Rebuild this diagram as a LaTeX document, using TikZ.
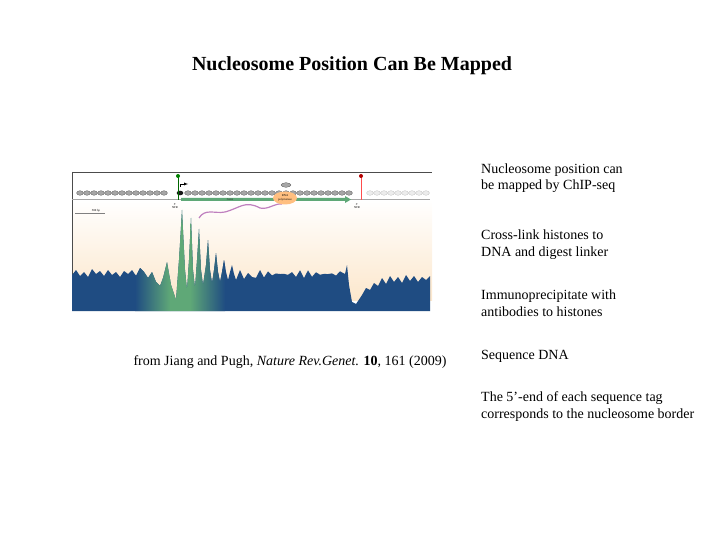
\documentclass[tikz,border=0pt]{standalone}
\usepackage{fontspec}
\setmainfont{Liberation Serif}
\usetikzlibrary{shapes.geometric}
\begin{document}
\begin{tikzpicture}[x=1pt,y=-1pt,
  body/.style={anchor=base west,align=left,font=\fontsize{14}{17}\selectfont,inner sep=0pt},
  nuc/.style={fill=gray!70,draw=gray!50!black,line width=0.2pt},
  nucw/.style={fill=gray!15,draw=gray!60,line width=0.2pt},
  tiny/.style={font=\fontsize{3}{3.5}\selectfont,inner sep=0pt}]
\useasboundingbox (0,0) rectangle (720,540);
\definecolor{profblue}{HTML}{1F4C82}
\definecolor{peach}{HTML}{FCE7CC}
\definecolor{genegreen}{HTML}{5FA877}
\node[font=\fontsize{20}{22}\selectfont\bfseries,anchor=base] (title) at (352,71) {Nucleosome Position Can Be Mapped};
% figure background
\shade[top color=white,bottom color=peach] (72,200) rectangle (432,300);
\draw[gray!60!black,line width=0.8pt] (72,172) -- (432,172);
\draw[gray!60!black,line width=0.5pt] (72,172) -- (72,311);
% profile
\begin{scope}
\clip (72,311) -- (72,275) -- (76,270) -- (80,276) -- (84,272) -- (88,277) -- (92,269) -- (96,274) -- (100,271) -- (104,276) -- (108,270) -- (112,275) -- (116,272) -- (120,277) -- (124,271) -- (128,274) -- (132,270) -- (136,276) -- (140,268) -- (144,272) -- (148,278) -- (152,272) -- (156,282) -- (160,286) -- (163,278) -- (167,262) -- (171,285) -- (176,300) -- (179,260) -- (182,210) -- (185,270) -- (187,290) -- (189,260) -- (191,218) -- (193,270) -- (195,288) -- (197,260) -- (199,229) -- (201,270) -- (203,285) -- (206,265) -- (208,240) -- (210,270) -- (212,283) -- (214,270) -- (216,253) -- (218,272) -- (220,282) -- (222,272) -- (224,260) -- (226,272) -- (228,280) -- (230,272) -- (232,265) -- (234,274) -- (236,280) -- (238,275) -- (240,270) -- (244,279) -- (248,273) -- (252,277)
 \foreach \xx [count=\i] in {256,260,...,342} { -- (\xx,{272+4*mod(\i,2)+2*sin(\xx*37)}) }
 -- (345,274) -- (347,265) -- (349,285) -- (352,302) -- (356,304) -- (362,295) -- (366,288) -- (370,290) -- (374,283) -- (378,286) -- (382,278) -- (386,284) -- (390,276) -- (394,282) -- (398,277) -- (402,283) -- (406,275) -- (410,281) -- (414,276) -- (418,282) -- (422,277) -- (426,280) -- (430,276) -- (430,311) -- cycle;
\fill[profblue] (72,200) rectangle (432,312);
\shade[left color=profblue,right color=genegreen] (135,200) rectangle (170,312);
\fill[genegreen] (170,200) rectangle (190,312);
\shade[left color=genegreen,right color=profblue] (190,200) rectangle (225,312);
\end{scope}
% baseline
\draw[gray!70,line width=0.6pt] (72,199) -- (430,199);
% nucleosomes
\foreach \xx in {80,87,...,166} {\fill[nuc] (\xx,193) ellipse (3.4 and 2.3);}
\fill[gray!20!black] (180,193) ellipse (3.4 and 2.3);
\foreach \xx in {188,195,...,350} {\fill[nuc] (\xx,193) ellipse (3.4 and 2.3);}
\foreach \xx in {370,377,...,426} {\fill[nucw] (\xx,193) ellipse (3.4 and 2.3);}
\fill[nuc] (286,185) ellipse (5 and 2.3);
% markers
\draw[green!40!black,line width=0.6pt] (178,200) -- (178,177);
\fill[green!50!black] (178,176) circle (2);
\draw[line width=0.4pt,-latex] (180,187) -- (180,184) -- (188,184);
\draw[red!70,line width=0.6pt] (361,200) -- (361,177);
\fill[red!70!black] (361,176) circle (2);
% gene arrow
\fill[genegreen] (181,198) -- (345,198) -- (345,196) -- (351,199.5) -- (345,203) -- (345,201) -- (181,201) -- cycle;
\node[tiny,text=gray!30!black] (gene) at (230,199.5) {Gene};
% RNA polymerase
\draw[violet!50,line width=1.2pt] (199,218) .. controls (205,208) and (215,214) .. (225,212) .. controls (240,208) and (245,200) .. (260,208) .. controls (268,210) and (275,203) .. (282,204);
\node[ellipse,fill=orange!50,minimum width=24pt,minimum height=13pt,inner sep=0pt,tiny,align=center] (pol) at (285,198) {RNA\\polymerase};
% labels
\node[tiny,align=center] (nfr1) at (175,206) {5′\\NFR};
\node[tiny,align=center] (nfr2) at (357,206) {3′\\NFR};
\draw[gray,line width=0.3pt] (75,213) -- (105,213);
\node[tiny] (bp) at (96,211) {500 bp};
% caption
\node[font=\fontsize{14}{17}\selectfont,anchor=base] (cap) at (290,365) {from Jiang and Pugh, \textit{Nature Rev.Genet.} \textbf{10}, 161 (2009)};
% right text
\node[body] (t1) at (481,190) {Nucleosome position can\\be mapped by ChIP-seq};
\node[body] (t2) at (481,256) {Cross-link histones to\\DNA and digest linker};
\node[body] (t3) at (481,316) {Immunoprecipitate with\\antibodies to histones};
\node[body] (t4) at (481,359) {Sequence DNA};
\node[body] (t5) at (481,418) {The 5’-end of each sequence tag\\corresponds to the nucleosome border};
\end{tikzpicture}
\end{document}
